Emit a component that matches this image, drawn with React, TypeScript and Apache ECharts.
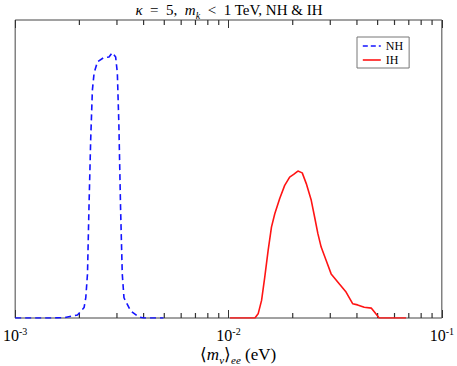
import React, { useEffect, useRef } from "react";
import * as echarts from "echarts";

// NH (dashed blue) distribution: x in eV, y normalised (arbitrary units)
const NH_X = [0.001, 0.001472, 0.001698, 0.001959, 0.002104, 0.002143, 0.002183, 0.002218, 0.002259, 0.002301, 0.002344, 0.002432, 0.002606, 0.002754, 0.002851, 0.002958, 0.003013, 0.003062, 0.003119, 0.003177, 0.003236, 0.003475, 0.003802, 0.004009, 0.004955];
const NH_Y = [0, 0, 0.001, 0.010, 0.035, 0.068, 0.148, 0.371, 0.596, 0.764, 0.822, 0.860, 0.874, 0.876, 0.890, 0.876, 0.822, 0.653, 0.371, 0.148, 0.068, 0.024, 0.003, 0, 0];

// IH (solid red) distribution
const IH_X = [0.01016, 0.01330, 0.01377, 0.01429, 0.01479, 0.01534, 0.01590, 0.01648, 0.01738, 0.01834, 0.01935, 0.02020, 0.02115, 0.02216, 0.02315, 0.02443, 0.02533, 0.02624, 0.02719, 0.02870, 0.03028, 0.03310, 0.03557, 0.03819, 0.04027, 0.04327, 0.04677, 0.04906, 0.05082, 0.05465, 0.06796];
const IH_Y = [0, 0, 0.014, 0.059, 0.137, 0.227, 0.305, 0.350, 0.401, 0.445, 0.473, 0.482, 0.493, 0.487, 0.451, 0.395, 0.339, 0.283, 0.238, 0.193, 0.148, 0.114, 0.087, 0.048, 0.044, 0.036, 0.033, 0.014, 0, 0, 0];

const MINOR_TICKS = [0.002, 0.003, 0.004, 0.005, 0.006, 0.007, 0.008, 0.009, 0.02, 0.03, 0.04, 0.05, 0.06, 0.07, 0.08, 0.09];

const X_MIN = 0.001;
const X_MAX = 0.1;
const Y_MAX = 1;

const SERIF = "Liberation Serif";
const BLUE = "#1414ff";
const RED = "#ff1414";
const TICK = "#333";

export default function App() {
  const ref = useRef<HTMLDivElement>(null);

  useEffect(() => {
    document.body.style.margin = "0";
    if (!ref.current) return;
    const chart = echarts.init(ref.current, undefined, { renderer: "svg" });

    const nhData = NH_X.map((x, i) => [x, NH_Y[i]]);
    const ihData = IH_X.map((x, i) => [x, IH_Y[i]]);
    const tickBottom = MINOR_TICKS.map((v) => [v, 0]);
    const tickTop = MINOR_TICKS.map((v) => [v, Y_MAX]);

    const labelFormatter = (v: number) => {
      const e = Math.round(Math.log10(v));
      return `{b|10}{s|${e}}`;
    };

    chart.setOption({
      animation: false,
      backgroundColor: "#fff",
      textStyle: { fontFamily: SERIF },
      grid: {
        left: 14,
        right: 14,
        top: 20,
        bottom: 48,
        show: true,
        borderColor: "#444",
        borderWidth: 1,
        backgroundColor: "transparent",
      },
      legend: {
        orient: "vertical",
        left: 357,
        top: 37,
        data: [
          { name: "NH", itemStyle: { opacity: 0 }, lineStyle: { type: [5, 3], width: 1.6, color: BLUE } },
          { name: "IH", itemStyle: { opacity: 0 }, lineStyle: { type: "solid", width: 1.6, color: RED } },
        ],
        itemWidth: 18,
        itemHeight: 8,
        itemGap: 2,
        padding: [3, 6, 2, 5],
        borderColor: "#777",
        borderWidth: 1,
        backgroundColor: "#fff",
        textStyle: { fontFamily: SERIF, fontSize: 12, color: "#000" },
      },
      xAxis: [
        {
          type: "log",
          logBase: 10,
          min: X_MIN,
          max: X_MAX,
          position: "bottom",
          axisLine: { show: false },
          splitLine: { show: false },
          axisTick: { show: true, inside: true, length: 8, lineStyle: { color: TICK, width: 1 } },
          axisLabel: {
            margin: 8,
            fontFamily: SERIF,
            formatter: labelFormatter,
            rich: {
              b: { fontFamily: SERIF, fontSize: 16, color: "#000", lineHeight: 18 },
              s: { fontFamily: SERIF, fontSize: 10, color: "#000", verticalAlign: "top", lineHeight: 18 },
            },
          },
        },
        {
          type: "log",
          logBase: 10,
          min: X_MIN,
          max: X_MAX,
          position: "top",
          axisLine: { show: false },
          splitLine: { show: false },
          axisTick: { show: true, inside: true, length: 8, lineStyle: { color: TICK, width: 1 } },
          axisLabel: { show: false },
        },
      ],
      yAxis: {
        type: "value",
        min: 0,
        max: Y_MAX,
        axisLine: { show: false },
        axisTick: { show: false },
        axisLabel: { show: false },
        splitLine: { show: false },
      },
      series: [
        {
          name: "NH",
          type: "line",
          data: nhData,
          showSymbol: false,
          symbol: "none",
          lineStyle: { color: BLUE, width: 1.6, type: [6, 4] },
          itemStyle: { color: BLUE },
          z: 3,
        },
        {
          name: "IH",
          type: "line",
          data: ihData,
          showSymbol: false,
          symbol: "none",
          lineStyle: { color: RED, width: 1.6 },
          itemStyle: { color: RED },
          z: 3,
        },
        {
          name: "minorBottom",
          type: "scatter",
          data: tickBottom,
          silent: true,
          clip: false,
          symbol: "rect",
          symbolSize: [1.2, 5],
          symbolOffset: [0, -2.5],
          itemStyle: { color: TICK, opacity: 1 },
          z: 2,
        },
        {
          name: "minorTop",
          type: "scatter",
          data: tickTop,
          silent: true,
          clip: false,
          symbol: "rect",
          symbolSize: [1.2, 5],
          symbolOffset: [0, 2.5],
          itemStyle: { color: TICK, opacity: 1 },
          z: 2,
        },
      ],
      graphic: [
        {
          type: "text",
          x: 229,
          y: 10,
          style: {
            text: "{i|κ}{p|  =  5,  }{i|m}{sub|k}{p|  <  1 TeV, NH & IH}",
            align: "center",
            verticalAlign: "middle",
            rich: {
              p: { fontFamily: SERIF, fontSize: 15, color: "#000" },
              i: { fontFamily: SERIF, fontSize: 15, fontStyle: "italic", color: "#000" },
              sub: { fontFamily: SERIF, fontSize: 10, fontStyle: "italic", color: "#000", verticalAlign: "bottom", lineHeight: 20 },
            },
          },
        },
        {
          type: "text",
          x: 238,
          y: 354,
          style: {
            text: "{p|⟨}{i|m}{sub|ν}{p|⟩}{sub|ee}{p| (eV)}",
            align: "center",
            verticalAlign: "middle",
            rich: {
              p: { fontFamily: SERIF, fontSize: 17, color: "#000" },
              i: { fontFamily: SERIF, fontSize: 17, fontStyle: "italic", color: "#000" },
              sub: { fontFamily: SERIF, fontSize: 11, fontStyle: "italic", color: "#000", verticalAlign: "bottom", lineHeight: 22 },
            },
          },
        },
      ],
    });

    return () => chart.dispose();
  }, []);

  return <div ref={ref} style={{ width: 457, height: 366 }} />;
}
